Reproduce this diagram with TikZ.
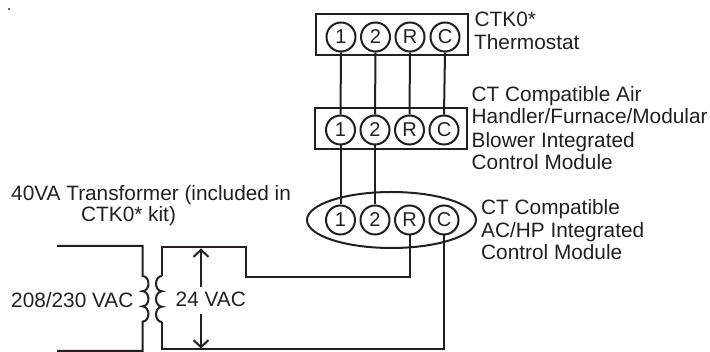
\documentclass[tikz,border=0pt]{standalone}
\usetikzlibrary{arrows.meta}
\usepackage{fontspec}
\setmainfont{Liberation Sans}
\definecolor{ink}{HTML}{231F20}
\begin{document}
\begin{tikzpicture}[x=1pt,y=-1pt,
  lbl/.style={font=\fontsize{20.8}{22}\selectfont,text=ink,inner sep=0pt,align=left,anchor=base west},
  term/.style={circle,draw=ink,line width=2pt,minimum size=29pt,inner sep=0pt,font=\fontsize{20}{20}\selectfont,text=ink},
  wire/.style={draw=ink,line width=2pt},
  arr/.style={draw=ink,line width=2pt,-{Straight Barb[length=7pt,width=15pt,line width=2pt]}}]
\useasboundingbox (0,0) rectangle (710,352);
\fill[ink!70] (8,8) rectangle (9.5,10);
\draw[wire] (316,14) rectangle (468,55);
\draw[wire] (315,108) rectangle (467,149);
\draw[wire] (391.5,220) ellipse [x radius=84.5,y radius=28];
\foreach \n/\t/\x in {1/1/341,2/2/375.5,R/R/410,C/C/445}{\node[term] (a\n) at (\x,37) {\t};}
\foreach \n/\t/\x in {1/1/340.5,2/2/375,R/R/409.5,C/C/444}{\node[term] (b\n) at (\x,130) {\t};}
\foreach \n/\t/\x in {1/1/340.5,2/2/375,R/R/409.5,C/C/444}{\node[term] (c\n) at (\x,220) {\t};}
\foreach \n in {1,2,R,C}{\draw[wire] (a\n.south) -- (b\n.north);}
\foreach \n in {1,2}{\draw[wire] (b\n.south) -- (c\n.north);}
\coordinate (pa) at (57,246);
\coordinate (pb) at (57,351);
\coordinate (sa) at (162,276);
\coordinate (sb) at (162,322);
\draw[wire] (cR.south) -- (409.5,277) -- (246,277) -- (246,247.5) -- (162,247.5) -- (sa);
\draw[wire] (pa) -- (142.5,246) -- (142.5,276)
  arc[start angle=-90,end angle=90,x radius=6,y radius=7.6]
  arc[start angle=-90,end angle=90,x radius=6,y radius=7.6]
  arc[start angle=-90,end angle=90,x radius=6,y radius=7.6] -- (142.5,351) -- (pb);
\draw[wire] (cC.south) -- (444,349.5) -- (162,349.5) -- (sb);
\draw[wire] (sa)
  arc[start angle=270,end angle=90,x radius=6,y radius=7.67]
  arc[start angle=270,end angle=90,x radius=6,y radius=7.67]
  arc[start angle=270,end angle=90,x radius=6,y radius=7.67];
\coordinate (au) at (201,287);
\coordinate (ad) at (201,314);
\draw[arr] (au) -- (201,248.5);
\draw[arr] (ad) -- (201,348.5);
\node[lbl] (t1) at (474.5,27) {CTK0*};
\node[lbl] (t2) at (474,50) {Thermostat};
\node[lbl] (t3) at (471.5,102) {CT Compatible Air};
\node[lbl] (t4) at (471.5,124) {Handler/Furnace/Modular};
\node[lbl] (t5) at (471.5,148) {Blower Integrated};
\node[lbl] (t6) at (471.5,170) {Control Module};
\node[lbl] (t7) at (481,215) {CT Compatible};
\node[lbl] (t8) at (481,238) {AC/HP Integrated};
\node[lbl] (t9) at (481,259.5) {Control Module};
\node[lbl] (t10) at (11,200.5) {40VA Transformer (included in};
\node[lbl] (t11) at (81,222) {CTK0* kit)};
\node[lbl] (t12) at (11,308) {208/230 VAC};
\node[lbl] (t13) at (175.5,307) {24 VAC};
\end{tikzpicture}
\end{document}
